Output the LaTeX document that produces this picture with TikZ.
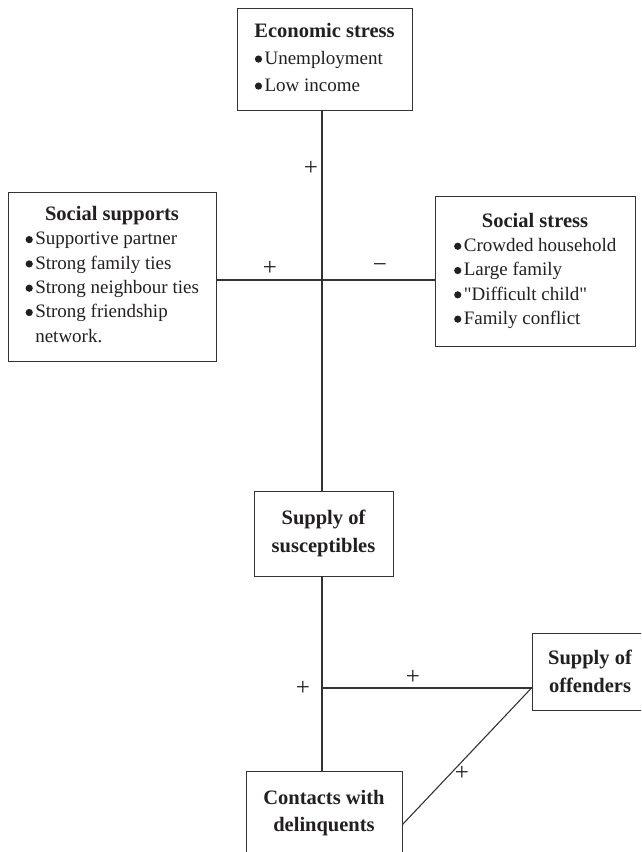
\documentclass[tikz,border=0pt]{standalone}
\usepackage{fontspec}
\setmainfont{Liberation Serif}[Ligatures=TeXOff]
\usetikzlibrary{calc}
\definecolor{linec}{HTML}{333333}
\definecolor{txtc}{HTML}{231F20}
\tikzset{
  box/.style={draw=linec, line width=1pt, inner sep=0pt, text=txtc},
  conn/.style={draw=linec, line width=1.1pt},
  sign/.style={inner sep=0pt, text=txtc, font=\fontsize{25}{25}\selectfont},
  ttlbox/.style={box, align=center, font=\fontsize{20.5}{27.5}\selectfont\bfseries},
}
\newcommand{\bul}{\hspace{0.5pt}\tikz[baseline=0pt]\fill[txtc] (0,0.28em) circle (0.19em);\hspace{2.5pt}}
\newcommand{\ttl}[1]{\multicolumn{1}{@{}c@{}}{\fontsize{20.5}{24}\selectfont\bfseries #1}}
\begin{document}
\begin{tikzpicture}[x=1pt,y=1pt]
\useasboundingbox (0,0) rectangle (641,-852);
\clip (0,0) rectangle (641,-852);

\node[box, minimum width=175pt, minimum height=102pt] (econ) at (324.5,-59)
  {\fontsize{19}{27}\selectfont\begin{tabular}{@{}l@{}}\ttl{Economic stress}\\ \bul Unemployment\\ \bul Low income\end{tabular}};

\node[box, minimum width=208pt, minimum height=169pt] (supp) at (112,-276.5)
  {\fontsize{19}{24.3}\selectfont\begin{tabular}{@{}l@{}}\ttl{Social supports}\\ \bul Supportive partner\\ \bul Strong family ties\\ \bul Strong neighbour ties\\ \bul Strong friendship\\ \phantom{\bul}network.\end{tabular}};

\node[box, minimum width=200pt, minimum height=150pt] (sstress) at (535,-271)
  {\fontsize{19}{24.3}\selectfont\begin{tabular}{@{}l@{}}\ttl{Social stress}\\ \bul Crowded household\\ \bul Large family\\ \bul "Difficult child"\\ \bul Family conflict\end{tabular}};

\node[ttlbox, minimum width=139pt, minimum height=85pt] (susc) at (323.5,-533.5) {Supply of\\susceptibles};
\node[ttlbox, minimum width=116pt, minimum height=77pt] (off) at (590,-671.5) {Supply of\\offenders};
\node[ttlbox, minimum width=156pt, minimum height=84pt] (cont) at (324,-813) {Contacts with\\delinquents};

\coordinate (hub) at (322,-280);
\coordinate (jn) at (322,-688);
\coordinate (dend) at ($(cont.north east)+(0,-54)$);

\draw[conn] (econ.south -| hub) -- (susc.north -| hub);
\draw[conn] (supp.east |- hub) -- (sstress.west |- hub);
\draw[conn] (susc.south -| jn) -- (cont.north -| jn);
\draw[conn] (jn) -- (off.west |- jn);
\draw[conn] (off.west |- jn) -- (dend);

\node[sign] (s1) at (311,-168) {+};
\node[sign] (s2) at (270,-268) {+};
\node[sign] (s3) at (380,-268) {−};
\node[sign] (s4) at (303,-688) {+};
\node[sign] (s5) at (413,-677) {+};
\node[sign] (s6) at (462,-773) {+};
\end{tikzpicture}
\end{document}
